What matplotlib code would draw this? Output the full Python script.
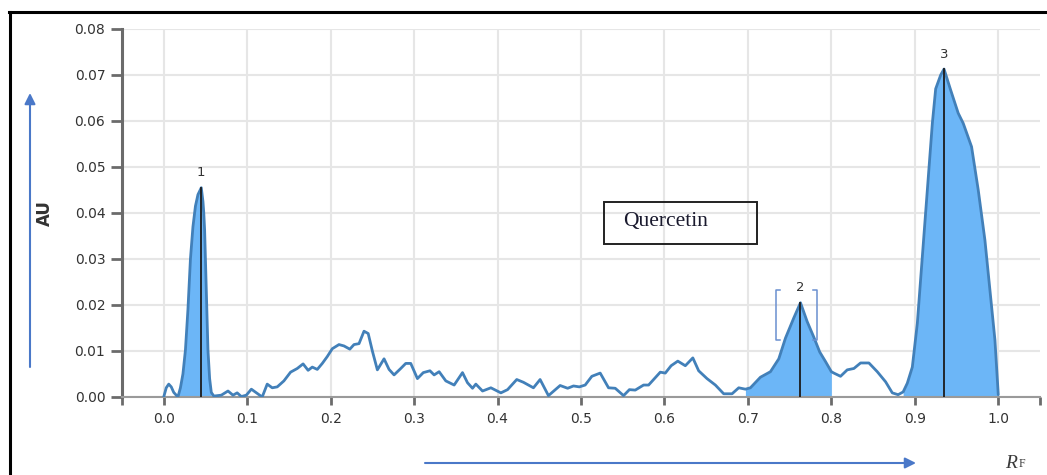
import numpy as np
import matplotlib
matplotlib.use("Agg")
import matplotlib.pyplot as plt
from matplotlib.lines import Line2D
from matplotlib.patches import Rectangle

plt.rcParams['font.family'] = ['DejaVu Sans']

# Densitogram of the track: Rf position and absorbance (AU)
rf = [0.000, 0.003, 0.006, 0.009, 0.012, 0.017, 0.020, 0.023, 0.026, 0.029,
      0.032, 0.035, 0.038, 0.041, 0.045, 0.047, 0.048, 0.049, 0.050, 0.0515,
      0.053, 0.055, 0.057, 0.060, 0.069, 0.077, 0.083, 0.088, 0.093, 0.099,
      0.105, 0.112, 0.118, 0.124, 0.130, 0.136, 0.144, 0.152, 0.160, 0.167,
      0.173, 0.178, 0.184, 0.190, 0.196, 0.202, 0.210, 0.216, 0.223, 0.228,
      0.234, 0.240, 0.245, 0.250, 0.256, 0.264, 0.270, 0.276, 0.284, 0.290,
      0.296, 0.304, 0.311, 0.319, 0.324, 0.330, 0.338, 0.348, 0.358, 0.364,
      0.370, 0.374, 0.382, 0.392, 0.404, 0.412, 0.423, 0.431, 0.443, 0.451,
      0.461, 0.475, 0.484, 0.491, 0.498, 0.505, 0.513, 0.523, 0.533, 0.541,
      0.551, 0.558, 0.565, 0.575, 0.581, 0.595, 0.601, 0.608, 0.616, 0.625,
      0.634, 0.641, 0.651, 0.661, 0.671, 0.681, 0.689, 0.697, 0.703, 0.715,
      0.727, 0.737, 0.745, 0.755, 0.763, 0.771, 0.779, 0.786, 0.793, 0.800,
      0.803, 0.811, 0.819, 0.827, 0.835, 0.845, 0.855, 0.865, 0.873, 0.880,
      0.886, 0.891, 0.897, 0.903, 0.909, 0.915, 0.921, 0.925, 0.931, 0.935,
      0.943, 0.952, 0.958, 0.968, 0.976, 0.984, 0.990, 0.996, 1.000]
au = [0.0000, 0.0020, 0.0028, 0.0022, 0.0010, 0.0000, 0.0020, 0.0050, 0.0102, 0.0190,
      0.0300, 0.0370, 0.0415, 0.0440, 0.0455, 0.0425, 0.0400, 0.0363, 0.0300, 0.0200,
      0.0102, 0.0040, 0.0010, 0.0002, 0.0004, 0.0013, 0.0004, 0.0009, 0.0001, 0.0004,
      0.0017, 0.0008, 0.0000, 0.0028, 0.0020, 0.0022, 0.0035, 0.0054, 0.0062, 0.0072,
      0.0058, 0.0065, 0.0060, 0.0073, 0.0088, 0.0105, 0.0114, 0.0111, 0.0104, 0.0114,
      0.0116, 0.0143, 0.0138, 0.0100, 0.0059, 0.0083, 0.0060, 0.0048, 0.0062, 0.0073,
      0.0073, 0.0040, 0.0053, 0.0057, 0.0048, 0.0055, 0.0035, 0.0026, 0.0053, 0.0031,
      0.0019, 0.0028, 0.0013, 0.0020, 0.0009, 0.0016, 0.0038, 0.0032, 0.0020, 0.0038,
      0.0003, 0.0025, 0.0019, 0.0024, 0.0022, 0.0026, 0.0045, 0.0052, 0.0020, 0.0019,
      0.0003, 0.0016, 0.0015, 0.0026, 0.0026, 0.0054, 0.0052, 0.0068, 0.0078, 0.0068,
      0.0085, 0.0057, 0.0040, 0.0026, 0.0007, 0.0007, 0.0020, 0.0017, 0.0020, 0.0043,
      0.0055, 0.0083, 0.0128, 0.0172, 0.0205, 0.0164, 0.0130, 0.0098, 0.0077, 0.0055,
      0.0052, 0.0045, 0.0059, 0.0062, 0.0074, 0.0074, 0.0055, 0.0033, 0.0009, 0.0005,
      0.0011, 0.0030, 0.0065, 0.0160, 0.0305, 0.0450, 0.0595, 0.0670, 0.0700, 0.0713,
      0.0667, 0.0617, 0.0595, 0.0544, 0.0450, 0.0341, 0.0233, 0.0124, 0.0005]

# Integrated peak windows (start, end) and apex positions
peak_windows = [(0.017, 0.057), (0.697, 0.800), (0.886, 1.000)]
peak_labels = ["1", "2", "3"]
peak_rf = [0.045, 0.763, 0.935]
peak_au = [0.0455, 0.0205, 0.0713]

x_ticks = [0.0, 0.1, 0.2, 0.3, 0.4, 0.5, 0.6, 0.7, 0.8, 0.9, 1.0]
y_ticks = [0.00, 0.01, 0.02, 0.03, 0.04, 0.05, 0.06, 0.07, 0.08]

W, H = 1047, 475
fig = plt.figure(figsize=(W / 100, H / 100), dpi=100)
ax = fig.add_axes([122 / W, 1 - 397 / H, (1040 - 122) / W, (397 - 29) / H])

x = np.array(rf)
y = np.array(au)

line_col = "#4280b9"
fill_col = "#6cb6f7"

for a, b in peak_windows:
    m = (x >= a - 1e-9) & (x <= b + 1e-9)
    ax.fill_between(x[m], 0, y[m], color=fill_col, lw=0, zorder=2)

ax.plot(x, y, color=line_col, lw=2.0, solid_joinstyle="round",
        solid_capstyle="round", zorder=3)

for px, py, lab in zip(peak_rf, peak_au, peak_labels):
    ax.plot([px, px], [0, py], color="#1c1c1c", lw=1.3, zorder=4)
    ax.annotate(lab, (px, py), xytext=(0, 6), textcoords="offset points",
                ha="center", va="bottom", fontsize=9.5, color="#333333")

# bracket around peak 2
bc = "#6a8fd0"
bl, br, bb, bt, arm = 0.734, 0.783, 0.0124, 0.0232, 0.005
ax.plot([bl + arm, bl, bl, bl + arm], [bt, bt, bb, bb], color=bc, lw=1.1, zorder=4)
ax.plot([br - arm, br, br, br - arm], [bt, bt, bb, bb], color=bc, lw=1.1, zorder=4)

# compound name box
ax.add_patch(Rectangle((0.527, 0.0333), 0.184, 0.0091, fill=False,
                       edgecolor="#222222", lw=1.4, zorder=5))
ax.text(0.550, 0.0381, "Quercetin", family="Liberation Serif", fontsize=15.5,
        ha="left", va="center", color="#1a1a2e", zorder=6)

ax.set_xlim(-0.05, 1.05)
ax.set_ylim(0, 0.08)
ax.set_xticks(x_ticks)
ax.set_xticklabels([f"{t:.1f}" for t in x_ticks])
ax.set_xticks([-0.05, 1.05], minor=True)
ax.set_yticks(y_ticks)
ax.set_yticklabels([f"{t:.2f}" for t in y_ticks])

ax.grid(True, which="major", color="#e6e6e6", lw=1.5, zorder=0)
ax.set_axisbelow(True)
for s in ["top", "right"]:
    ax.spines[s].set_visible(False)
ax.spines["left"].set_color("#6b6b6b")
ax.spines["left"].set_linewidth(2.2)
ax.spines["bottom"].set_color("#9a9a9a")
ax.spines["bottom"].set_linewidth(1.5)
ax.tick_params(axis="y", length=8, width=2, color="#6b6b6b", pad=4,
               labelsize=10, labelcolor="#333333")
ax.tick_params(axis="x", which="both", length=6, width=2, color="#6b6b6b",
               pad=5, labelsize=10, labelcolor="#333333")

# axis captions
fig.text(45 / W, 1 - 213 / H, "AU", rotation=90, ha="center", va="center",
         fontsize=12, fontweight="bold", color="#333333")
fig.text(1011 / W, 1 - 463 / H, "R", family="Liberation Serif", style="italic",
         fontsize=14, ha="center", va="center", color="#3a3a3a")
fig.text(1022 / W, 1 - 464 / H, "F", family="Liberation Serif",
         fontsize=8.5, ha="center", va="center", color="#3a3a3a")

# direction arrows
arrow_col = "#4a78c8"
ax.annotate("", xy=(30, H - 93), xytext=(30, H - 367), xycoords="figure pixels",
            textcoords="figure pixels",
            arrowprops=dict(arrowstyle="-|>", color=arrow_col, lw=1.5,
                            mutation_scale=16, shrinkA=0, shrinkB=0))
ax.annotate("", xy=(916, H - 463), xytext=(425, H - 463), xycoords="figure pixels",
            textcoords="figure pixels",
            arrowprops=dict(arrowstyle="-|>", color=arrow_col, lw=1.5,
                            mutation_scale=16, shrinkA=0, shrinkB=0))

# outer frame
fig.add_artist(Line2D([10 / W, 10 / W], [0, 1 - 12 / H], color="black", lw=2.2))
fig.add_artist(Line2D([9 / W, 1], [1 - 12 / H, 1 - 12 / H], color="black", lw=2.2))

fig.savefig("out.png", dpi=100)
